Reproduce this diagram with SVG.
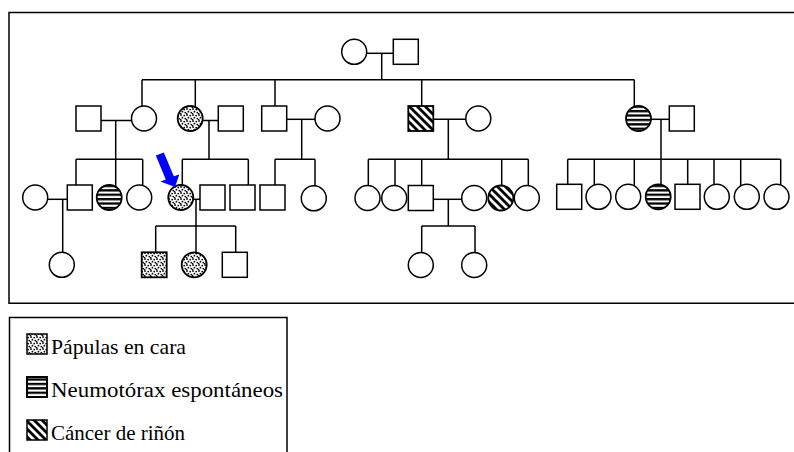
<svg xmlns="http://www.w3.org/2000/svg" width="794" height="452" viewBox="0 0 794 452">
<style>
.ln{stroke:#000;stroke-width:1.5;fill:none}
.nd{stroke:#000;stroke-width:1.5;fill:#fff}
.dt{stroke:#000;stroke-width:1.8;fill:url(#dots)}
.hs{stroke:#000;stroke-width:1.8;fill:url(#hstr)}
.ds{stroke:#000;stroke-width:1.8;fill:url(#dstr)}
.fr{stroke:#000;stroke-width:1.5;fill:none}
.tx{font-family:"Liberation Serif","Times New Roman",serif;font-size:22px;fill:#000}
</style>
<defs>
<pattern id="dots" width="6" height="6" patternUnits="userSpaceOnUse">
<rect width="6" height="6" fill="#fff"/>
<circle cx="1" cy="1" r="0.9" fill="#000"/>
<circle cx="4.2" cy="1.6" r="0.9" fill="#000"/>
<circle cx="2.4" cy="3.7" r="0.9" fill="#000"/>
<circle cx="5.3" cy="4.6" r="0.9" fill="#000"/>
<circle cx="0.6" cy="5.6" r="0.8" fill="#000"/>
</pattern>
<pattern id="hstr" width="8" height="4.4" patternUnits="userSpaceOnUse">
<rect width="8" height="4.4" fill="#fff"/>
<rect width="8" height="2.3" fill="#000"/>
</pattern>
<pattern id="dstr" width="5.6" height="10" patternUnits="userSpaceOnUse" patternTransform="rotate(-45)">
<rect width="5.6" height="10" fill="#fff"/>
<rect width="2.8" height="10" fill="#000"/>
</pattern>
</defs>

<g id="frame">
<path class="fr" d="M794,12.5 H9 V303.3 H794"/>
</g>

<g id="connectors" class="ln">
<line x1="366.7" y1="53.3" x2="393.3" y2="53.3"/>
<line x1="381.7" y1="53.3" x2="381.7" y2="79.7"/>
<line x1="142" y1="79.7" x2="634.3" y2="79.7"/>
<line x1="142" y1="79.7" x2="142" y2="110"/>
<line x1="195.3" y1="79.7" x2="195.3" y2="110"/>
<line x1="275" y1="79.7" x2="275" y2="110"/>
<line x1="421.7" y1="79.7" x2="421.7" y2="110"/>
<line x1="634.3" y1="79.7" x2="634.3" y2="110"/>
<line x1="101" y1="120.5" x2="131.5" y2="120.5"/>
<line x1="115.7" y1="120.5" x2="115.7" y2="159.3"/>
<line x1="202.7" y1="120.5" x2="218.3" y2="120.5"/>
<line x1="209" y1="120.5" x2="209" y2="159.3"/>
<line x1="286.7" y1="119.3" x2="315" y2="119.3"/>
<line x1="301.7" y1="119.3" x2="301.7" y2="159.3"/>
<line x1="433.3" y1="119.3" x2="465.8" y2="119.3"/>
<line x1="448.3" y1="119.3" x2="448.3" y2="159.3"/>
<line x1="651" y1="119.3" x2="669.3" y2="119.3"/>
<line x1="661" y1="119.3" x2="661" y2="190"/>
<line x1="76" y1="159.3" x2="142.7" y2="159.3"/>
<line x1="76" y1="159.3" x2="76" y2="190"/>
<line x1="115.7" y1="159.3" x2="115.7" y2="190"/>
<line x1="142.7" y1="159.3" x2="142.7" y2="190"/>
<line x1="182.3" y1="159.3" x2="248.3" y2="159.3"/>
<line x1="182.3" y1="159.3" x2="182.3" y2="190"/>
<line x1="248.3" y1="159.3" x2="248.3" y2="190"/>
<line x1="275" y1="159.3" x2="315" y2="159.3"/>
<line x1="275" y1="159.3" x2="275" y2="190"/>
<line x1="315" y1="159.3" x2="315" y2="190"/>
<line x1="368.3" y1="159.3" x2="528.3" y2="159.3"/>
<line x1="368.3" y1="159.3" x2="368.3" y2="190"/>
<line x1="395" y1="159.3" x2="395" y2="190"/>
<line x1="421.7" y1="159.3" x2="421.7" y2="190"/>
<line x1="501.7" y1="159.3" x2="501.7" y2="190"/>
<line x1="528.3" y1="159.3" x2="528.3" y2="190"/>
<line x1="567.7" y1="159.3" x2="780.7" y2="159.3"/>
<line x1="567.7" y1="159.3" x2="567.7" y2="190"/>
<line x1="594.3" y1="159.3" x2="594.3" y2="190"/>
<line x1="634.3" y1="159.3" x2="634.3" y2="190"/>
<line x1="687.7" y1="159.3" x2="687.7" y2="190"/>
<line x1="714" y1="159.3" x2="714" y2="190"/>
<line x1="740.7" y1="159.3" x2="740.7" y2="190"/>
<line x1="780.7" y1="159.3" x2="780.7" y2="190"/>
<line x1="47.7" y1="199.3" x2="67.3" y2="199.3"/>
<line x1="62.7" y1="199.3" x2="62.7" y2="256"/>
<line x1="193.3" y1="199.3" x2="200" y2="199.3"/>
<line x1="196" y1="199.3" x2="196" y2="226"/>
<line x1="155.7" y1="226" x2="235.7" y2="226"/>
<line x1="155.7" y1="226" x2="155.7" y2="256"/>
<line x1="196" y1="226" x2="196" y2="256"/>
<line x1="235.7" y1="226" x2="235.7" y2="256"/>
<line x1="433.3" y1="199.3" x2="461.7" y2="199.3"/>
<line x1="448.3" y1="199.3" x2="448.3" y2="226"/>
<line x1="421.7" y1="226" x2="475" y2="226"/>
<line x1="421.7" y1="226" x2="421.7" y2="256"/>
<line x1="475" y1="226" x2="475" y2="256"/>
</g>

<g id="I-1"><circle class="nd" cx="354.2" cy="51.8" r="12.5"/></g>
<g id="I-2"><rect class="nd" x="393.3" y="39.3" width="25" height="25"/></g>

<g id="II-1"><rect class="nd" x="76" y="106" width="25" height="25"/></g>
<g id="II-2"><circle class="nd" cx="144" cy="118.5" r="12.5"/></g>
<g id="II-3"><circle class="dt" cx="190.2" cy="118.5" r="12.5"/></g>
<g id="II-4"><rect class="nd" x="218.3" y="106" width="25" height="25"/></g>
<g id="II-5"><rect class="nd" x="261.7" y="106" width="25" height="25"/></g>
<g id="II-6"><circle class="nd" cx="327.5" cy="118.5" r="12.5"/></g>
<g id="II-7"><rect class="ds" x="408.3" y="106" width="25" height="25"/></g>
<g id="II-8"><circle class="nd" cx="478.3" cy="118.5" r="12.5"/></g>
<g id="II-9"><circle class="hs" cx="638.5" cy="118.5" r="12.5"/></g>
<g id="II-10"><rect class="nd" x="669.3" y="106" width="25" height="25"/></g>

<g id="III-1"><circle class="nd" cx="35.2" cy="197.5" r="12.5"/></g>
<g id="III-2"><rect class="nd" x="67.3" y="185" width="25" height="25"/></g>
<g id="III-3"><circle class="hs" cx="109.2" cy="197.5" r="12.5"/></g>
<g id="III-4"><circle class="nd" cx="139.2" cy="197.5" r="12.5"/></g>
<g id="III-5"><circle class="dt" cx="180.8" cy="197.5" r="12.5"/></g>
<g id="III-6"><rect class="nd" x="200" y="185" width="25" height="25"/></g>
<g id="III-7"><rect class="nd" x="230" y="185" width="25" height="25"/></g>
<g id="III-8"><rect class="nd" x="260" y="185" width="25" height="25"/></g>
<g id="III-9"><circle class="nd" cx="313.8" cy="198.3" r="12.5"/></g>
<g id="III-10"><circle class="nd" cx="367.5" cy="198" r="12.5"/></g>
<g id="III-11"><circle class="nd" cx="394.2" cy="198" r="12.5"/></g>
<g id="III-12"><rect class="nd" x="408.3" y="185.5" width="25" height="25"/></g>
<g id="III-13"><circle class="nd" cx="474.2" cy="198" r="12.5"/></g>
<g id="III-14"><circle class="ds" cx="500.8" cy="198" r="12.5"/></g>
<g id="III-15"><circle class="nd" cx="526.8" cy="198" r="12.5"/></g>
<g id="III-16"><rect class="nd" x="556.7" y="184.3" width="25" height="25"/></g>
<g id="III-17"><circle class="nd" cx="598.5" cy="196.8" r="12.5"/></g>
<g id="III-18"><circle class="nd" cx="628.2" cy="196.8" r="12.5"/></g>
<g id="III-19"><circle class="hs" cx="658.2" cy="196.8" r="12.5"/></g>
<g id="III-20"><rect class="nd" x="675" y="184.3" width="25" height="25"/></g>
<g id="III-21"><circle class="nd" cx="716.8" cy="196.8" r="12.5"/></g>
<g id="III-22"><circle class="nd" cx="746.8" cy="196.8" r="12.5"/></g>
<g id="III-23"><circle class="nd" cx="776.5" cy="196.8" r="12.5"/></g>

<g id="IV-1"><circle class="nd" cx="61.8" cy="264.8" r="12.5"/></g>
<g id="IV-2"><rect class="dt" x="141.7" y="252.3" width="25" height="25"/></g>
<g id="IV-3"><circle class="dt" cx="194.2" cy="264.8" r="12.5"/></g>
<g id="IV-4"><rect class="nd" x="222.3" y="252.3" width="25" height="25"/></g>
<g id="IV-5"><circle class="nd" cx="420.8" cy="265" r="12.5"/></g>
<g id="IV-6"><circle class="nd" cx="474.2" cy="265" r="12.5"/></g>

<g id="proband-arrow">
<polygon points="155.8,155.6 163.8,152.4 173.8,176.2 179.3,174.6 175,187 160.4,181.4 165.8,179.4" fill="#0000ff"/>
</g>

<g id="legend">
<path class="fr" d="M9.5,460 V317.5 H287 V460"/>
<rect x="27" y="334" width="20" height="20" fill="url(#dots)" stroke="#000" stroke-width="1.5"/>
<text class="tx" x="51" y="354" textLength="135" lengthAdjust="spacingAndGlyphs">Pápulas en cara</text>
<rect x="27" y="377" width="20" height="20" fill="url(#hstr)" stroke="#000" stroke-width="2"/>
<text class="tx" x="51" y="397" textLength="232" lengthAdjust="spacingAndGlyphs">Neumotórax espontáneos</text>
<rect x="27" y="420" width="20" height="20" fill="url(#dstr)" stroke="#000" stroke-width="1.5"/>
<text class="tx" x="51" y="440" textLength="134" lengthAdjust="spacingAndGlyphs">Cáncer de riñón</text>
</g>
</svg>
